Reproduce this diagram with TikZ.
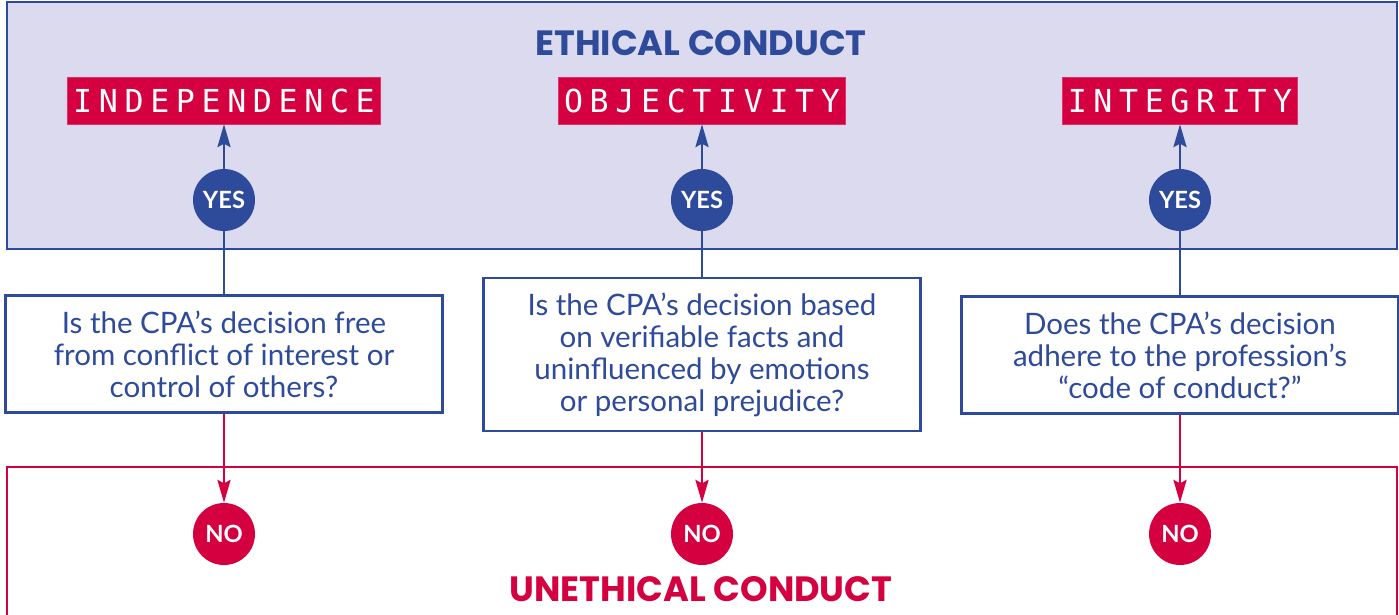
\documentclass[tikz,border=0pt]{standalone}
\usepackage{fontspec}
\setmainfont{Lato}
\newfontfamily\headfont{Poppins}
\newfontfamily\tagfont[LetterSpace=21]{DejaVu Sans Mono}
\usetikzlibrary{arrows.meta}

\definecolor{cpablue}{RGB}{46,74,154}
\definecolor{cpared}{RGB}{213,0,64}
\definecolor{cpalilac}{RGB}{220,218,238}

\tikzset{
  panel/.style={line width=1.3pt},
  heading/.style={font=\headfont\bfseries\fontsize{20}{20}\selectfont},
  tag/.style={fill=cpared, draw=cpared!80!white, text=white, inner xsep=0pt,
    minimum height=0.94cm, font=\tagfont\fontsize{18}{18}\selectfont},
  yesdot/.style={circle, fill=cpablue, text=white, minimum size=1.24cm, inner sep=0pt,
    font=\bfseries\fontsize{13.5}{14}\selectfont},
  nodot/.style={yesdot, fill=cpared},
  question/.style={draw=cpablue, line width=1.3pt, fill=white, text=cpablue, align=center,
    inner sep=0pt, minimum width=8.74cm, font=\fontsize{16.8}{18.2}\selectfont},
  stem/.style={cpablue, line width=1.1pt},
  upline/.style={stem, -{Stealth[length=13pt,width=7.5pt,inset=2pt]}},
  downline/.style={cpared, line width=1.1pt, -{Stealth[length=13pt,width=7.5pt,inset=2pt]}},
}

\begin{document}
\begin{tikzpicture}[x=0.02cm, y=-0.02cm]
\useasboundingbox (0,0) rectangle (1399,615);

%panels
\draw[panel, draw=cpablue, fill=cpalilac] (7,2) rectangle (1397,249);
\draw[panel, draw=cpared, fill=white] (7,467) rectangle (1397,640);

%headings
\node[heading, text=cpablue] (ethtitle) at (701,43) {ETHICAL CONDUCT};
\node[heading, text=cpared] (unethtitle) at (701,589) {UNETHICAL CONDUCT};

%tags
\node[tag, minimum width=6.26cm] (tagind) at (224,100.5) {INDEPENDENCE};
\node[tag, minimum width=5.74cm] (tagobj) at (702,100.5) {OBJECTIVITY};
\node[tag, minimum width=4.70cm] (tagint) at (1180,100.5) {INTEGRITY};

%yes
\node[yesdot] (yesind) at (224,200) {YES};
\node[yesdot] (yesobj) at (702,200) {YES};
\node[yesdot] (yesint) at (1180,200) {YES};

%questions
\node[question, minimum height=2.34cm] (qind) at (224,354) {Is the CPA’s decision free\\from conflict of interest or\\control of others?};
\node[question, minimum height=3.06cm] (qobj) at (702,354.5) {Is the CPA’s decision based\\on verifiable facts and\\uninfluenced by emotions\\or personal prejudice?};
\node[question, minimum height=2.34cm] (qint) at (1180,355) {Does the CPA’s decision\\adhere to the profession’s\\“code of conduct?”};

%no
\node[nodot] (noind) at (224,534) {NO};
\node[nodot] (noobj) at (702,534) {NO};
\node[nodot] (noint) at (1180,534) {NO};

%connectors
\draw[upline] (yesind) -- (tagind);
\draw[upline] (yesobj) -- (tagobj);
\draw[upline] (yesint) -- (tagint);
\draw[stem] (yesind) -- (qind);
\draw[stem] (yesobj) -- (qobj);
\draw[stem] (yesint) -- (qint);
\draw[downline] (qind) -- (noind);
\draw[downline] (qobj) -- (noobj);
\draw[downline] (qint) -- (noint);

\end{tikzpicture}
\end{document}
